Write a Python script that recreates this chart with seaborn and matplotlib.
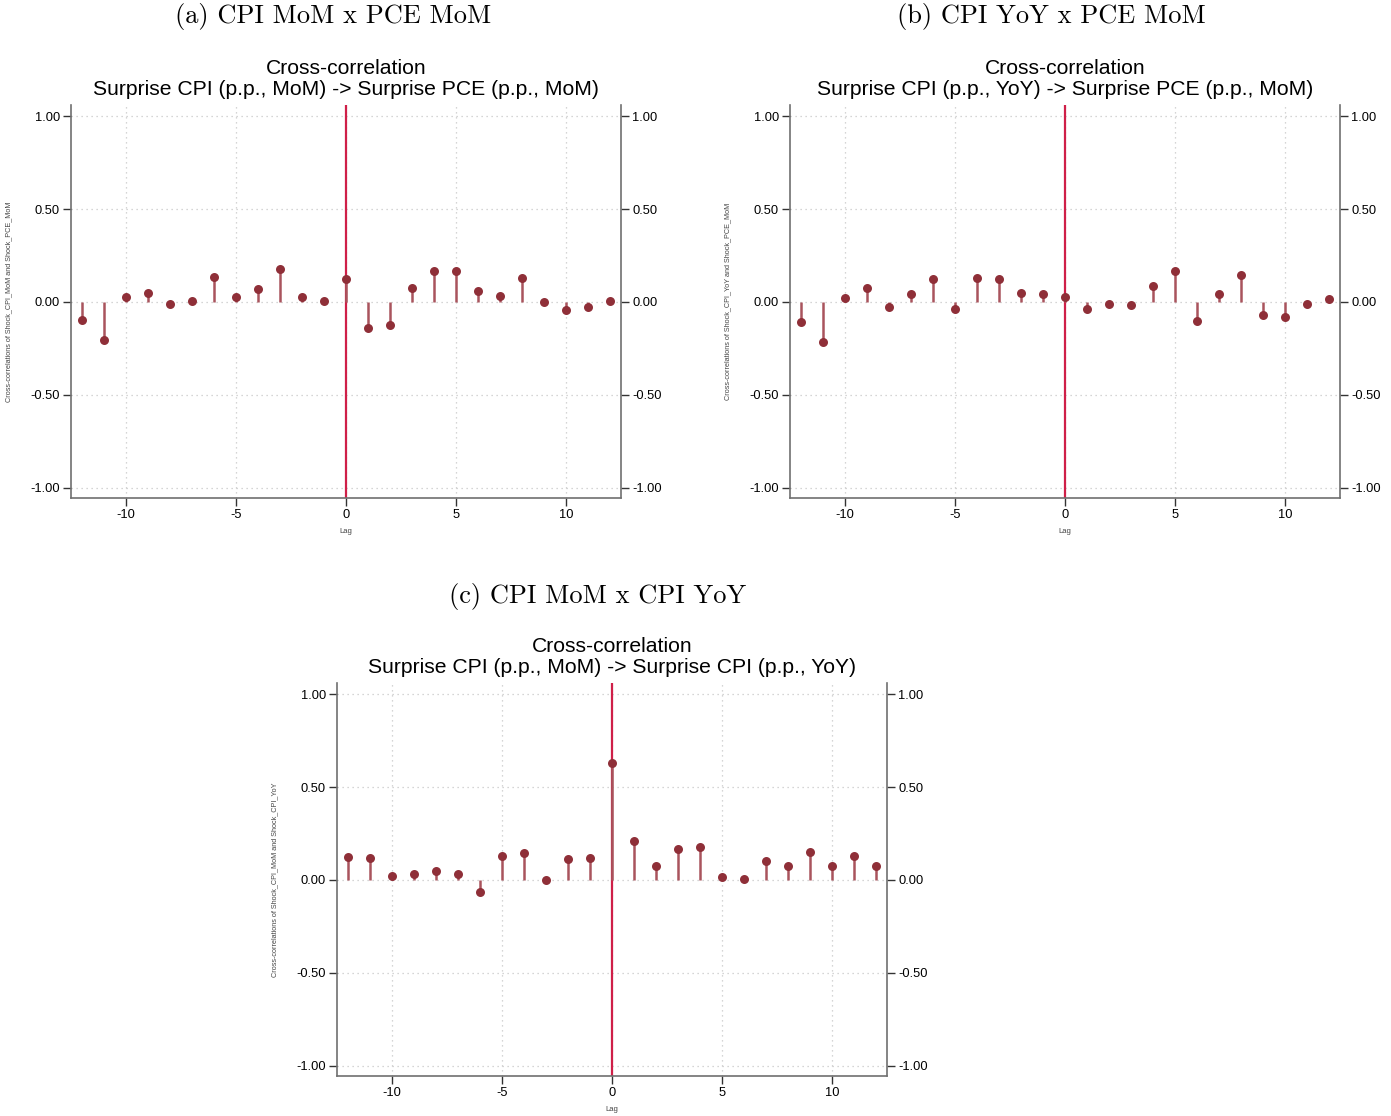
import numpy as np
import pandas as pd
import matplotlib
matplotlib.use("Agg")
import matplotlib.pyplot as plt
import seaborn as sns
from matplotlib.ticker import FormatStrFormatter

# lags and cross-correlations
lags = list(range(-12, 13))
ccf_a = [-0.098, -0.205, 0.025, 0.048, -0.013, 0.003, 0.133, 0.025, 0.068, 0.176, 0.027, 0.003, 0.123,
         -0.141, -0.125, 0.073, 0.164, 0.166, 0.057, 0.031, 0.128, -0.001, -0.044, -0.025, 0.004]
ccf_b = [-0.108, -0.217, 0.023, 0.075, -0.029, 0.043, 0.125, -0.038, 0.129, 0.122, 0.047, 0.041, 0.027,
         -0.038, -0.011, -0.018, 0.086, 0.165, -0.102, 0.041, 0.145, -0.068, -0.082, -0.014, 0.016]
ccf_c = [0.125, 0.116, 0.023, 0.032, 0.050, 0.032, -0.066, 0.127, 0.143, -0.002, 0.115, 0.118, 0.631,
         0.210, 0.077, 0.168, 0.176, 0.018, 0.007, 0.100, 0.077, 0.152, 0.072, 0.129, 0.072]

captions = ["(a) CPI MoM x PCE MoM", "(b) CPI YoY x PCE MoM", "(c) CPI MoM x CPI YoY"]
titles = ["Cross-correlation\nSurprise CPI (p.p., MoM) -> Surprise PCE (p.p., MoM)",
          "Cross-correlation\nSurprise CPI (p.p., YoY) -> Surprise PCE (p.p., MoM)",
          "Cross-correlation\nSurprise CPI (p.p., MoM) -> Surprise CPI (p.p., YoY)"]
ylabels = ["Cross-correlations of Shock_CPI_MoM and Shock_PCE_MoM",
           "Cross-correlations of Shock_CPI_YoY and Shock_PCE_MoM",
           "Cross-correlations of Shock_CPI_MoM and Shock_CPI_YoY"]

sns.set_theme(style="white")
plt.rcParams["font.family"] = ["Liberation Sans", "DejaVu Sans"]
plt.rcParams["axes.unicode_minus"] = False
plt.rcParams["text.color"] = "black"
plt.rcParams["xtick.color"] = "black"
plt.rcParams["ytick.color"] = "black"

W, H = 1391, 1116
fig = plt.figure(figsize=(W / 100, H / 100), dpi=100)

# axes boxes in pixels: left, top, right, bottom
boxes = [(71, 105, 621, 498), (790, 105, 1340, 498), (337, 683, 887, 1076)]
cap_pos = [(333, 17), (1051, 17), (598, 596)]

stem_col = "#a9545d"
dot_col = "#8f2f38"
line_col = "#cf1f48"
spine_col = "#707070"

for i, ccf in enumerate([ccf_a, ccf_b, ccf_c]):
    l, t, r, b = boxes[i]
    ax = fig.add_axes([l / W, 1 - b / H, (r - l) / W, (b - t) / H])
    df = pd.DataFrame({"lag": lags, "ccf": ccf})

    ax.axvline(0, color=line_col, lw=1.6, zorder=2)
    ax.vlines(df["lag"], 0, df["ccf"], color=stem_col, lw=1.8, zorder=3)
    sns.scatterplot(data=df, x="lag", y="ccf", ax=ax, color=dot_col, s=42,
                    edgecolor=dot_col, linewidth=0, zorder=4)

    ax.set_xlim(-12.5, 12.5)
    ax.set_ylim(-1.056, 1.06)
    ax.set_xticks([-10, -5, 0, 5, 10])
    ax.set_yticks([-1, -0.5, 0, 0.5, 1])
    ax.yaxis.set_major_formatter(FormatStrFormatter("%.2f"))
    ax.grid(True, color="#c8c8c8", lw=0.9, linestyle=(0, (1, 3)))
    ax.set_axisbelow(True)

    for s in ["left", "right", "bottom"]:
        ax.spines[s].set_color(spine_col)
        ax.spines[s].set_linewidth(1.2)
    ax.spines["top"].set_visible(False)

    ax.tick_params(axis="y", left=True, right=True, labelleft=True, labelright=True,
                   direction="out", length=6, width=1, color="#333333", labelsize=9.3, pad=2)
    ax.tick_params(axis="x", bottom=True, direction="out", length=6, width=1,
                   color="#333333", labelsize=9.3, pad=2)

    ax.set_title(titles[i], fontsize=15.2, linespacing=1.12, pad=7)
    ax.set_xlabel("Lag", fontsize=5.5, color="#444444")
    ax.xaxis.set_label_coords(0.5, -0.077)
    ax.set_ylabel(ylabels[i], fontsize=5.2, color="#444444")
    ax.yaxis.set_label_coords(-0.107, 0.5)

    cx, cy = cap_pos[i]
    fig.text(cx / W, 1 - cy / H, captions[i], family="cmr10", fontsize=19,
             ha="center", va="center")

plt.savefig("out.png", dpi=100)
